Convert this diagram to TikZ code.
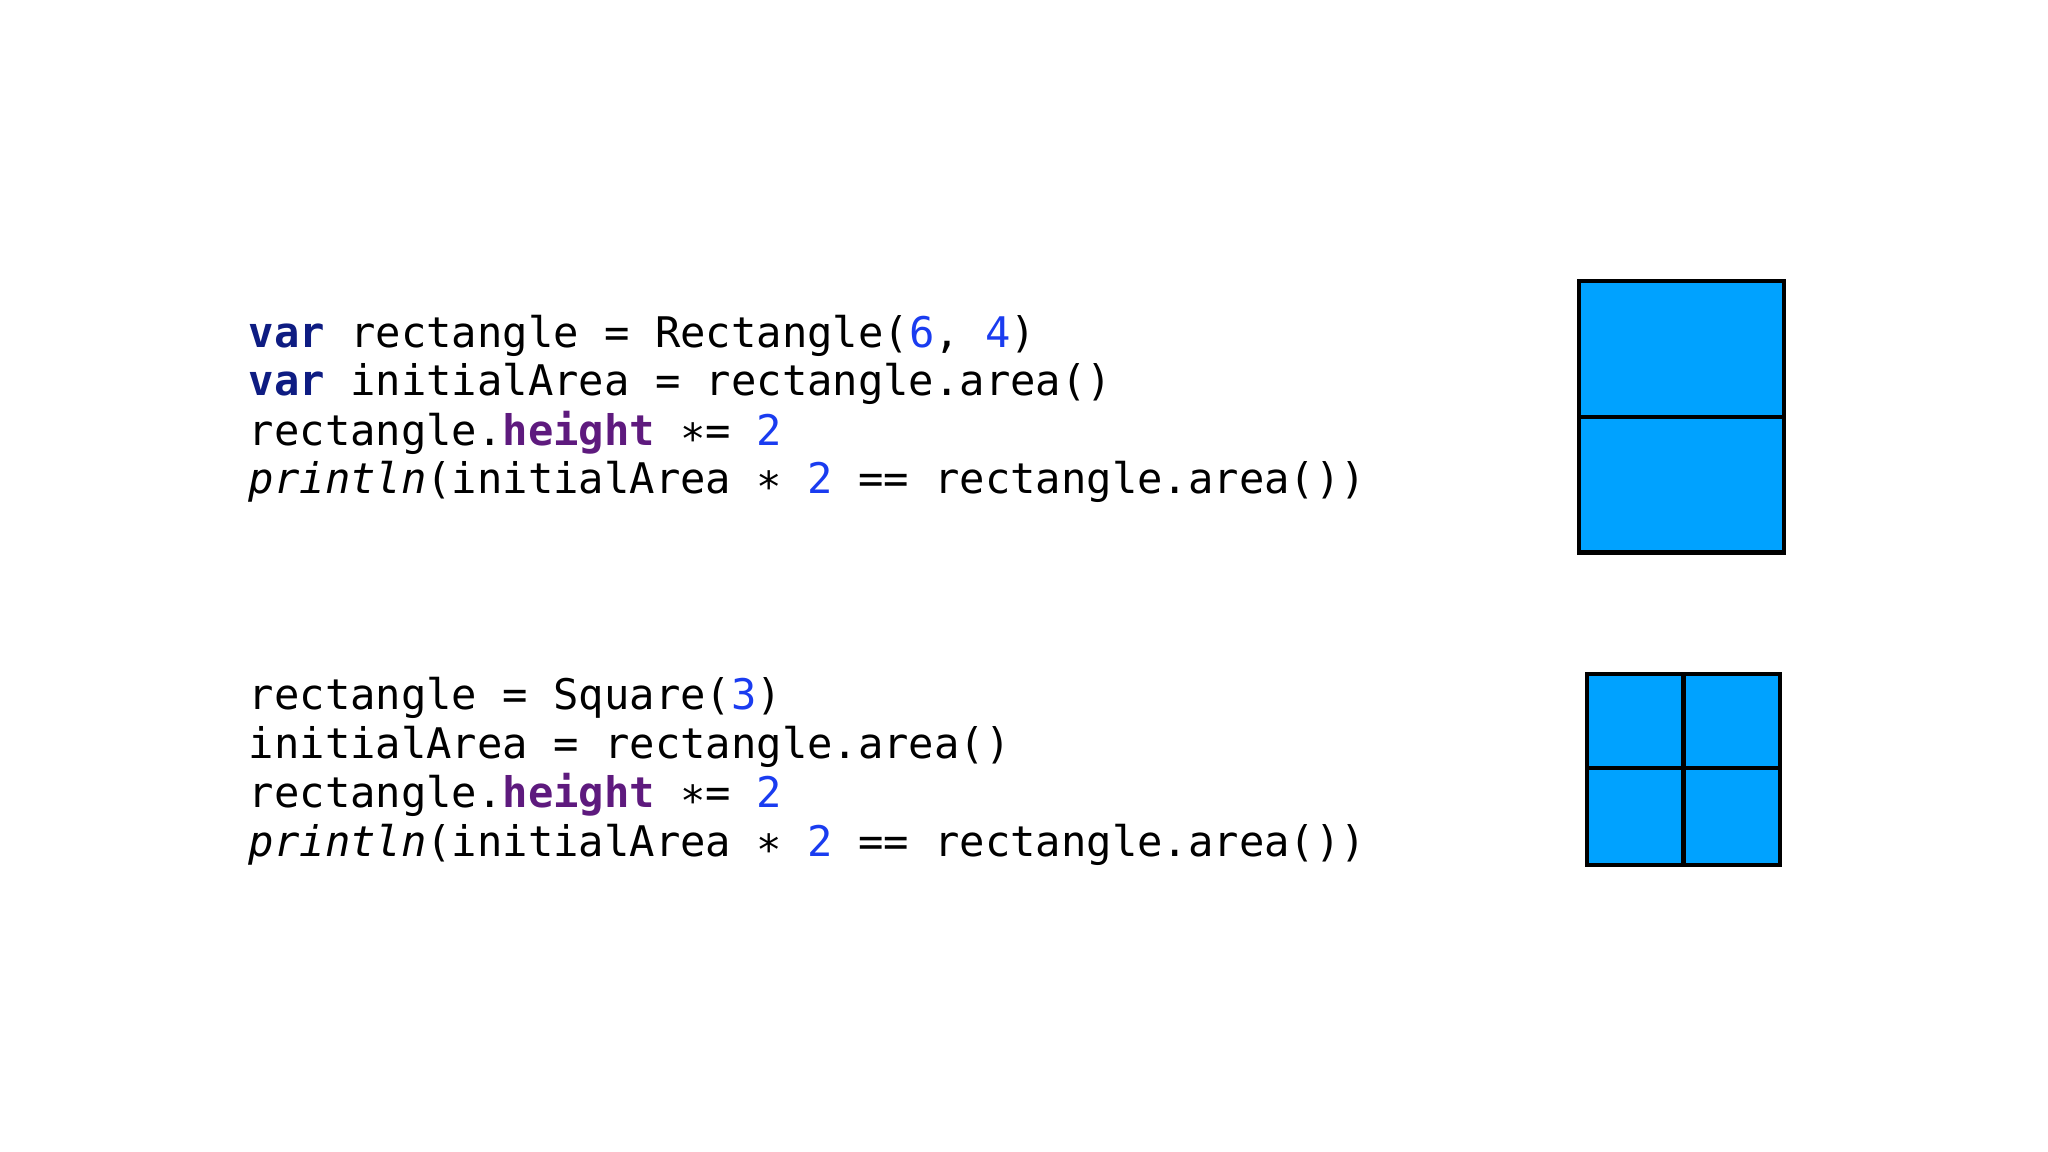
\documentclass[tikz,border=0pt]{standalone}
\usepackage{fontspec}
\setmonofont{DejaVu Sans Mono}
\definecolor{kw}{HTML}{0E1C82}
\definecolor{prop}{HTML}{5E1A7E}
\definecolor{num}{HTML}{1A3CF0}
\definecolor{fillb}{HTML}{00A2FF}
\tikzset{code/.style={anchor=base west,inner sep=0pt,font=\ttfamily\fontsize{12}{14}\selectfont},
 box/.style={draw=black,line width=1.2pt,fill=fillb}}
\newcommand{\kwv}{\textcolor{kw}{\textbf{var}}}
\newcommand{\hgt}{\textcolor{prop}{\textbf{height}}}
\newcommand{\nm}[1]{\textcolor{num}{#1}}
\begin{document}
\begin{tikzpicture}[x=0.013061cm,y=-0.013061cm]
\useasboundingbox (0,0) rectangle (1568,882);
\node[code] (a1) at (190,266) {\kwv{} rectangle = Rectangle(\nm{6}, \nm{4})};
\node[code] (a2) at (190,303) {\kwv{} initialArea = rectangle.area()};
\node[code] (a3) at (190,341) {rectangle.\hgt{} ∗= \nm{2}};
\node[code] (a4) at (190,378) {\textit{println}(initialArea ∗ \nm{2} == rectangle.area())};
\node[code] (b1) at (190,543) {rectangle = Square(\nm{3})};
\node[code] (b2) at (190,581) {initialArea = rectangle.area()};
\node[code] (b3) at (190,618) {rectangle.\hgt{} ∗= \nm{2}};
\node[code] (b4) at (190,656) {\textit{println}(initialArea ∗ \nm{2} == rectangle.area())};
\draw[box] (1209,215) rectangle (1366,423);
\draw[line width=1.2pt] (1209,319) -- (1366,319);
\draw[box] (1215,516) rectangle (1363,662);
\draw[line width=1.2pt] (1289,516) -- (1289,662) (1215,588) -- (1363,588);
\end{tikzpicture}
\end{document}
